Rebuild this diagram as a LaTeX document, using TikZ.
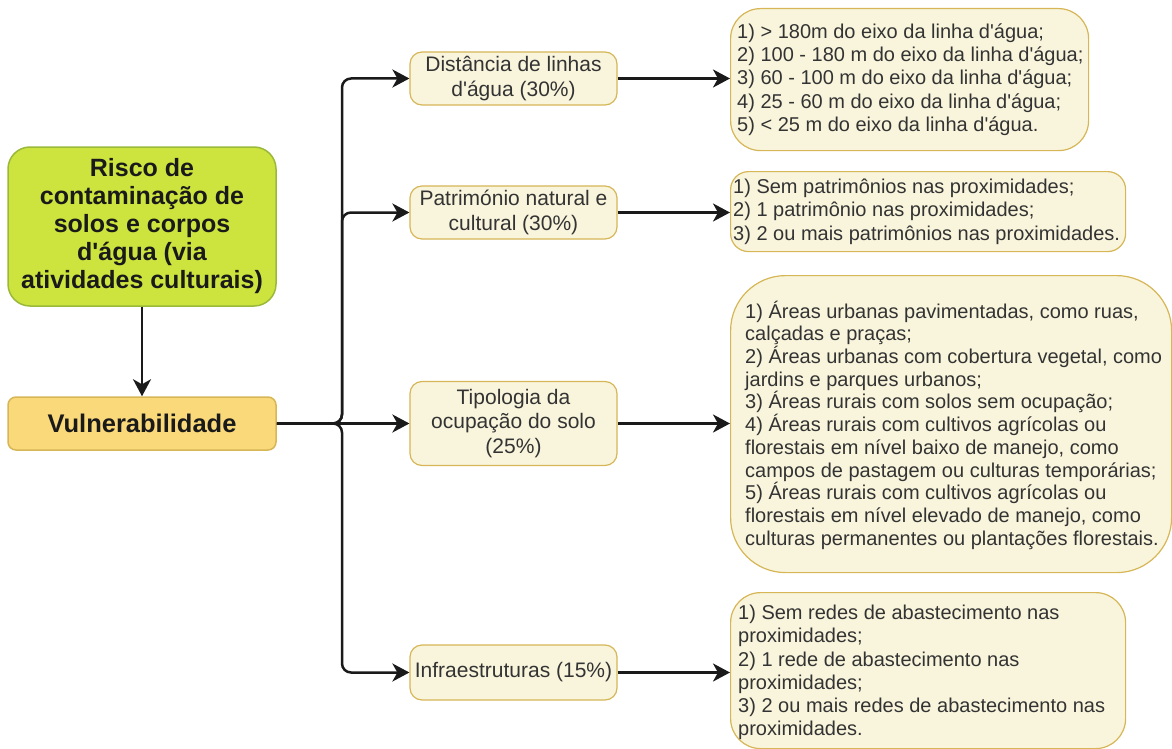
\documentclass[tikz,border=0pt]{standalone}
\usepackage{fontspec}
\setmainfont{Liberation Sans}[Ligatures=TeXOff]
\usetikzlibrary{arrows.meta}
\definecolor{gfill}{HTML}{CDE43F}
\definecolor{gdraw}{HTML}{9AB83A}
\definecolor{vfill}{HTML}{FAD97A}
\definecolor{ydraw}{HTML}{D6B656}
\definecolor{lfill}{HTML}{F9F5DC}
\definecolor{txt}{HTML}{333333}
\definecolor{dark}{HTML}{1A1A1A}
\tikzset{
  gbox/.style={draw=gdraw, fill=gfill, line width=1.5pt, rounded corners=22pt, align=center,
    text=dark, font=\fontsize{25}{28}\selectfont\bfseries, inner sep=0pt},
  vbox/.style={draw=ydraw, fill=vfill, line width=1.5pt, rounded corners=8pt, align=center,
    text=dark, font=\fontsize{25.5}{28}\selectfont\bfseries, inner sep=0pt},
  mbox/.style={draw=ydraw, fill=lfill, line width=1.2pt, rounded corners=12pt, align=center,
    text=txt, font=\fontsize{21}{24.5}\selectfont, inner sep=0pt, minimum width=207pt},
  rbox/.style={draw=ydraw, fill=lfill, line width=1.2pt, inner sep=0pt, anchor=north west},
  rtext/.style={align=left, text=txt, font=\fontsize{20}{23.2}\selectfont, inner sep=0pt, anchor=west},
  arr/.style={draw=dark, line width=2.5pt, -{Stealth[length=17pt,width=18pt,inset=5pt]}},
}
\begin{document}
\begin{tikzpicture}[x=1pt,y=-1pt]
\useasboundingbox (0,0) rectangle (1172,749);
% left column
\node[gbox, minimum width=268pt, minimum height=159pt] (risk) at (142,226.5)
  {Risco de\\contaminação de\\solos e corpos\\d'água (via\\atividades culturais)};
\node[vbox, minimum width=268pt, minimum height=53pt] (vul) at (142,423.5) {Vulnerabilidade};
% middle column
\node[mbox, minimum height=53pt] (dist) at (513.5,78.5) {Distância de linhas\\d'água (30\%)};
\node[mbox, minimum height=53pt] (pat) at (513.5,212.5) {Património natural e\\cultural (30\%)};
\node[mbox, minimum height=84pt] (tip) at (513.5,423.5) {Tipologia da\\ocupação do solo\\(25\%)};
\node[mbox, minimum height=55pt] (inf) at (513.5,672.5) {Infraestruturas (15\%)};
% right column
\node[rbox, rounded corners=30pt, minimum width=358pt, minimum height=142pt] (r1) at (730,8) {};
\node[rtext] at ([xshift=7pt]r1.west)
  {1) > 180m do eixo da linha d'água;\\2) 100 - 180 m do eixo da linha d'água;\\3) 60 - 100 m do eixo da linha d'água;\\4) 25 - 60 m do eixo da linha d'água;\\5) < 25 m do eixo da linha d'água.};
\node[rbox, rounded corners=18pt, minimum width=395pt, minimum height=80pt] (r2) at (730,171) {};
\node[rtext] at ([xshift=3pt]r2.west)
  {1) Sem patrimônios nas proximidades;\\2) 1 patrimônio nas proximidades;\\3) 2 ou mais patrimônios nas proximidades.};
\node[rbox, rounded corners=55pt, minimum width=441pt, minimum height=297pt] (r3) at (730,275) {};
\node[rtext, font=\fontsize{20}{22.7}\selectfont] at ([xshift=15pt,yshift=-1pt]r3.west)
  {1) Áreas urbanas pavimentadas, como ruas,\\calçadas e praças;\\2) Áreas urbanas com cobertura vegetal, como\\jardins e parques urbanos;\\3) Áreas rurais com solos sem ocupação;\\4) Áreas rurais com cultivos agrícolas ou\\florestais em nível baixo de manejo, como\\campos de pastagem ou culturas temporárias;\\5) Áreas rurais com cultivos agrícolas ou\\florestais em nível elevado de manejo, como\\culturas permanentes ou plantações florestais.};
\node[rbox, rounded corners=30pt, minimum width=395pt, minimum height=156pt] (r4) at (730,592) {};
\node[rtext, font=\fontsize{20}{23.2}\selectfont] at ([xshift=8pt,yshift=-2pt]r4.west)
  {1) Sem redes de abastecimento nas\\proximidades;\\2) 1 rede de abastecimento nas\\proximidades;\\3) 2 ou mais redes de abastecimento nas\\proximidades.};
% connectors
\coordinate (bus) at (342,423.5);
\draw[arr] (risk) -- (vul);
\draw[arr, rounded corners=9pt] (vul.east) -- (bus) |- (dist.west);
\draw[arr, rounded corners=9pt] (vul.east) -- (bus) |- (pat.west);
\draw[arr] (vul.east) -- (tip.west);
\draw[arr, rounded corners=9pt] (vul.east) -- (bus) |- (inf.west);
\draw[arr] (dist.east) -- (dist.east -| r1.west);
\draw[arr] (pat.east) -- (pat.east -| r2.west);
\draw[arr] (tip.east) -- (tip.east -| r3.west);
\draw[arr] (inf.east) -- (inf.east -| r4.west);
\end{tikzpicture}
\end{document}
